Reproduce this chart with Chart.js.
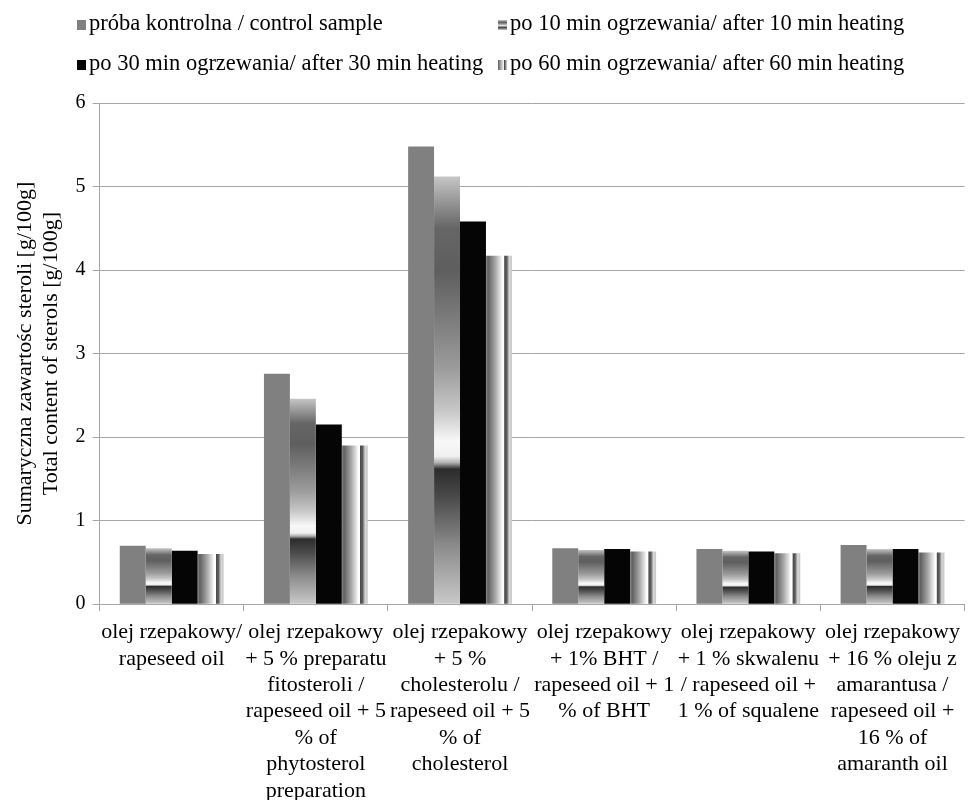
<!DOCTYPE html>
<html>
<head>
<meta charset="utf-8">
<script src="https://cdn.jsdelivr.net/npm/chart.js@4.4.1/dist/chart.umd.min.js"></script>
<style>
    html, body { margin: 0; padding: 0; background: #fff; }
    #wrap { position: relative; width: 968px; height: 800px; overflow: hidden; }
    #sterolChart { position: absolute; left: 0; top: 0; }
    #legend {
        position: absolute; left: 0; top: 0; width: 968px; height: 90px;
        font-family: 'Liberation Serif', 'Times New Roman', serif; font-size: 22.5px; color: #000;
    }
    .item { position: absolute; white-space: nowrap; line-height: 26px; }
    .item i { display: inline-block; width: 9px; height: 10px; margin-right: 3px; vertical-align: 0px; }
</style>
</head>
<body>
<div id="wrap">
    <canvas id="sterolChart" width="968" height="800"></canvas>
    <div id="legend"></div>
</div>
<script>
// kategorie (oś X)
const categories = [
    ['olej rzepakowy/', 'rapeseed oil'],
    ['olej rzepakowy', '+ 5 % preparatu', 'fitosteroli /', 'rapeseed oil + 5', '% of', 'phytosterol', 'preparation'],
    ['olej rzepakowy', '+ 5 %', 'cholesterolu /', 'rapeseed oil + 5', '% of', 'cholesterol'],
    ['olej rzepakowy', '+ 1% BHT /', 'rapeseed oil + 1', '% of BHT'],
    ['olej rzepakowy', '+ 1 % skwalenu', '/ rapeseed oil +', '1 % of squalene'],
    ['olej rzepakowy', '+ 16 % oleju z', 'amarantusa /', 'rapeseed oil +', '16 % of', 'amaranth oil']
];

const seriesNames = [
    'próba kontrolna / control sample',
    'po 10 min ogrzewania/ after 10 min heating',
    'po 30 min ogrzewania/ after 30 min heating',
    'po 60 min ogrzewania/ after 60 min heating'
];

// wartości [g/100g]
const controlSample = [0.70, 2.76, 5.48, 0.67, 0.66, 0.71];
const after10min = [0.67, 2.46, 5.12, 0.65, 0.64, 0.66];
const after30min = [0.64, 2.15, 4.58, 0.66, 0.63, 0.66];
const after60min = [0.60, 1.90, 4.17, 0.63, 0.61, 0.62];

const yTicks = [0, 1, 2, 3, 4, 5, 6];

const FONT = "'Liberation Serif', 'Times New Roman', serif";

// gradient stops (vertical for 10 min, horizontal for 60 min)
const stops10 = [
    [0, '#c6c6c6'], [0.12, '#666666'], [0.22, '#5e5e5e'], [0.35, '#808080'],
    [0.45, '#9c9c9c'], [0.55, '#c8c8c8'], [0.62, '#f8f8f8'], [0.655, '#f0f0f0'],
    [0.67, '#b0b0b0'], [0.685, '#2c2c2c'], [0.75, '#4a4a4a'], [0.87, '#8e8e8e'], [1, '#c8c8c8']
];
const stops60 = [
    [0, '#8c8c8c'], [0.08, '#606060'], [0.35, '#a4a4a4'], [0.58, '#eaeaea'],
    [0.64, '#ffffff'], [0.69, '#ffffff'], [0.72, '#4c4c4c'], [0.8, '#5c5c5c'],
    [0.9, '#d8d8d8'], [1, '#c4c4c4']
];

// legenda
const legendPos = [[77, 10], [498, 10], [77, 50], [498, 50]];
const legendMarks = [
    '#808080',
    'linear-gradient(to bottom,#c6c6c6,#606060 25%,#f8f8f8 62%,#2c2c2c 69%,#c8c8c8)',
    '#050505',
    'linear-gradient(to right,#606060,#eaeaea 58%,#fff 69%,#4c4c4c 72%,#d8d8d8)'
];
document.getElementById('legend').innerHTML = seriesNames.map((name, i) => `
    <div class="item" style="left:${legendPos[i][0]}px;top:${legendPos[i][1]}px">
        <i style="background:${legendMarks[i]}"></i>${name}
    </div>
`).join('');

// wypełnienie gradientem względem położenia słupka
const gradientBars = {
    id: 'gradientBars',
    beforeDatasetsDraw(chart) {
        const ctx = chart.ctx;
        [1, 3].forEach(di => {
            chart.getDatasetMeta(di).data.forEach(bar => {
                const p = bar.getProps(['x', 'y', 'base', 'width'], true);
                let g;
                if (di === 1) {
                    g = ctx.createLinearGradient(0, p.y, 0, p.base);
                    stops10.forEach(s => g.addColorStop(s[0], s[1]));
                } else {
                    g = ctx.createLinearGradient(p.x - p.width / 2, 0, p.x + p.width / 2, 0);
                    stops60.forEach(s => g.addColorStop(s[0], s[1]));
                }
                bar.options.backgroundColor = g;
            });
        });
    }
};

new Chart(document.getElementById('sterolChart'), {
    type: 'bar',
    data: {
        labels: categories,
        datasets: [
            { label: seriesNames[0], data: controlSample, backgroundColor: '#808080' },
            { label: seriesNames[1], data: after10min, backgroundColor: () => '#a0a0a0' },
            { label: seriesNames[2], data: after30min, backgroundColor: '#050505' },
            { label: seriesNames[3], data: after60min, backgroundColor: () => '#c0c0c0' }
        ]
    },
    options: {
        responsive: false,
        animation: false,
        events: [],
        layout: { padding: { top: 103, right: 0, bottom: -12, left: 0 } },
        datasets: {
            bar: { categoryPercentage: 0.72, barPercentage: 1.0, borderWidth: 0 }
        },
        plugins: {
            legend: { display: false },
            tooltip: { enabled: false }
        },
        scales: {
            x: {
                grid: {
                    offset: true,
                    drawOnChartArea: false,
                    drawTicks: true,
                    tickLength: 7,
                    color: '#a6a6a6'
                },
                border: { color: '#a6a6a6' },
                ticks: {
                    autoSkip: false,
                    maxRotation: 0,
                    minRotation: 0,
                    padding: 8,
                    color: '#000',
                    font: { family: FONT, size: 22, lineHeight: 1.2 }
                }
            },
            y: {
                min: 0,
                max: 6,
                afterBuildTicks: axis => { axis.ticks = yTicks.map(v => ({ value: v })); },
                grid: { color: '#a6a6a6', tickLength: 7 },
                border: { color: '#a6a6a6' },
                ticks: {
                    padding: 7,
                    color: '#000',
                    font: { family: FONT, size: 20 }
                },
                title: {
                    display: true,
                    text: ['Sumaryczna zawartośc steroli [g/100g]', 'Total content of sterols [g/100g]'],
                    color: '#000',
                    font: { family: FONT, size: 22, lineHeight: 1.15 },
                    padding: { top: 13, bottom: 5 }
                }
            }
        }
    },
    plugins: [gradientBars]
});
</script>
</body>
</html>
